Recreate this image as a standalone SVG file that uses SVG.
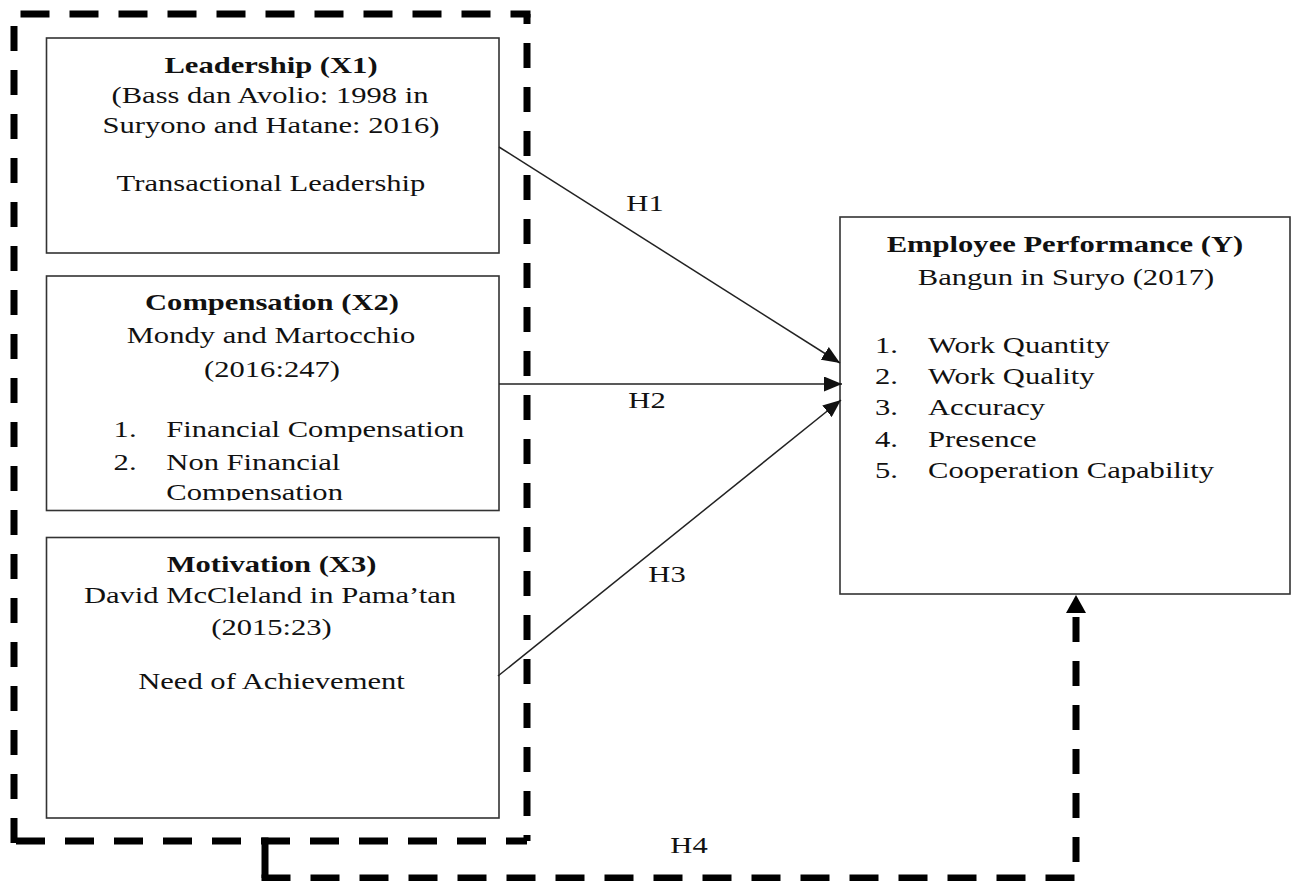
<svg xmlns="http://www.w3.org/2000/svg" width="1293" height="881" viewBox="0 0 1293 881">
  <style>
    .box { fill: #ffffff; stroke: #333333; stroke-width: 1.6; }
    .t { font-family: "Liberation Serif", "Times New Roman", serif; font-size: 23px; fill: #111111; }
    .b { font-weight: bold; }
    .conn { stroke: #222222; stroke-width: 1.5; fill: none; }
    .dh { stroke: #000000; stroke-width: 7; stroke-dasharray: 29 20; fill: none; }
    .dv { stroke: #000000; stroke-width: 7; stroke-dasharray: 25 19; fill: none; }
    .solid { stroke: #000000; stroke-width: 7; fill: none; }
  </style>
  <defs>
    <marker id="ah" markerWidth="18" markerHeight="15" refX="18" refY="7.5" orient="auto" markerUnits="userSpaceOnUse">
      <path d="M0,0 L18,7.5 L0,15 z" fill="#111111"/>
    </marker>
    <marker id="ah4" markerWidth="18" markerHeight="20" refX="0" refY="10" orient="auto" markerUnits="userSpaceOnUse">
      <path d="M0,0 L18,10 L0,20 z" fill="#000000"/>
    </marker>
    <clipPath id="clipComp">
      <rect x="46" y="276" width="453" height="224.5"/>
    </clipPath>
  </defs>
  <rect width="1293" height="881" fill="#ffffff"/>

  <!-- dashed grouping of X1, X2, X3 -->
  <g id="group-X">
    <line class="dh" x1="20.5" y1="14" x2="530.5" y2="14"/>
    <line class="dv" x1="527" y1="14" x2="527" y2="841" style="stroke-dashoffset:15"/>
    <line class="dv" x1="14" y1="26" x2="14" y2="844.5"/>
    <line class="dh" x1="14" y1="841" x2="527" y2="841" style="stroke-dashoffset:-2"/>
  </g>

  <g id="node-X1">
    <rect class="box" x="46.5" y="38" width="452.5" height="215"/>
    <text class="t b" text-anchor="middle" transform="translate(271,73) scale(1.33,1)">Leadership (X1)</text>
    <text class="t" text-anchor="middle" transform="translate(270,103) scale(1.33,1)">(Bass dan Avolio: 1998 in</text>
    <text class="t" text-anchor="middle" transform="translate(271,133) scale(1.33,1)">Suryono and Hatane: 2016)</text>
    <text class="t" text-anchor="middle" transform="translate(271,191) scale(1.33,1)">Transactional Leadership</text>
  </g>

  <g id="node-X2">
    <rect class="box" x="46.5" y="276" width="452.5" height="234.5"/>
    <text class="t b" text-anchor="middle" transform="translate(272,310) scale(1.33,1)">Compensation (X2)</text>
    <text class="t" text-anchor="middle" transform="translate(271,343) scale(1.33,1)">Mondy and Martocchio</text>
    <text class="t" text-anchor="middle" transform="translate(272,377) scale(1.33,1)">(2016:247)</text>
    <g clip-path="url(#clipComp)">
      <text class="t" transform="translate(113.6,437) scale(1.33,1)">1.</text>
      <text class="t" transform="translate(166.3,437) scale(1.33,1)">Financial Compensation</text>
      <text class="t" transform="translate(113.6,469.5) scale(1.33,1)">2.</text>
      <text class="t" transform="translate(166.3,469.5) scale(1.33,1)">Non Financial</text>
      <text class="t" transform="translate(166.3,500) scale(1.33,1)">Compensation</text>
    </g>
  </g>

  <g id="node-X3">
    <rect class="box" x="46.5" y="537.5" width="452.5" height="280.5"/>
    <text class="t b" text-anchor="middle" transform="translate(271.5,572) scale(1.33,1)">Motivation (X3)</text>
    <text class="t" text-anchor="middle" transform="translate(270,603) scale(1.33,1)">David McCleland in Pama’tan</text>
    <text class="t" text-anchor="middle" transform="translate(271.5,635) scale(1.33,1)">(2015:23)</text>
    <text class="t" text-anchor="middle" transform="translate(271.5,689) scale(1.33,1)">Need of Achievement</text>
  </g>

  <g id="node-Y">
    <rect class="box" x="840" y="217" width="450" height="377"/>
    <text class="t b" text-anchor="middle" transform="translate(1065,252) scale(1.33,1)">Employee Performance (Y)</text>
    <text class="t" text-anchor="middle" transform="translate(1066,285) scale(1.33,1)">Bangun in Suryo (2017)</text>
    <text class="t" transform="translate(875,353) scale(1.33,1)">1.</text>
    <text class="t" transform="translate(928,353) scale(1.33,1)">Work Quantity</text>
    <text class="t" transform="translate(875,384) scale(1.33,1)">2.</text>
    <text class="t" transform="translate(928,384) scale(1.33,1)">Work Quality</text>
    <text class="t" transform="translate(875,415) scale(1.33,1)">3.</text>
    <text class="t" transform="translate(928,415) scale(1.33,1)">Accuracy</text>
    <text class="t" transform="translate(875,447) scale(1.33,1)">4.</text>
    <text class="t" transform="translate(928,447) scale(1.33,1)">Presence</text>
    <text class="t" transform="translate(875,477.5) scale(1.33,1)">5.</text>
    <text class="t" transform="translate(928,477.5) scale(1.33,1)">Cooperation Capability</text>
  </g>

  <g id="connectors">
    <g id="conn-H1">
      <line class="conn" x1="499" y1="147" x2="840" y2="363" marker-end="url(#ah)"/>
      <text class="t" text-anchor="middle" transform="translate(645,211) scale(1.33,1)">H1</text>
    </g>
    <g id="conn-H2">
      <line class="conn" x1="499" y1="384" x2="842" y2="384" marker-end="url(#ah)"/>
      <text class="t" text-anchor="middle" transform="translate(647,408) scale(1.33,1)">H2</text>
    </g>
    <g id="conn-H3">
      <line class="conn" x1="498" y1="676" x2="841" y2="400" marker-end="url(#ah)"/>
      <text class="t" text-anchor="middle" transform="translate(667,582) scale(1.33,1)">H3</text>
    </g>
    <g id="conn-H4">
      <line class="solid" x1="265" y1="837.5" x2="265" y2="878"/>
      <line class="dh" x1="261.5" y1="878" x2="1079.5" y2="878"/>
      <line class="dv" x1="1076" y1="862" x2="1076" y2="613" marker-end="url(#ah4)"/>
      <text class="t" text-anchor="middle" transform="translate(689,853) scale(1.33,1)">H4</text>
    </g>
  </g>
</svg>
